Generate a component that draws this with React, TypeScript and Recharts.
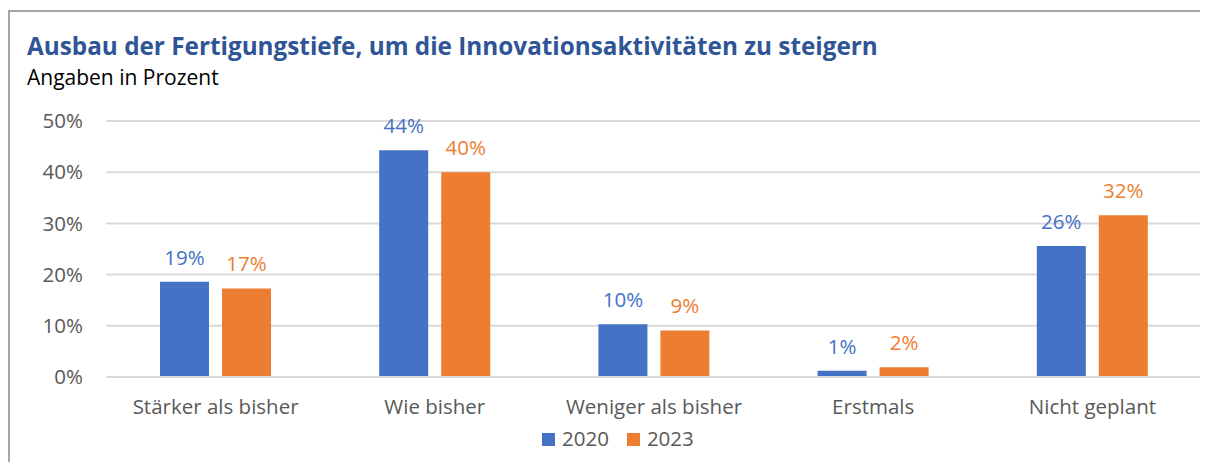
import { BarChart, Bar, XAxis, YAxis, CartesianGrid, Legend, LabelList } from "recharts";

const categories = ["Stärker als bisher", "Wie bisher", "Weniger als bisher", "Erstmals", "Nicht geplant"];
const values2020 = [18.6, 44.3, 10.3, 1.2, 25.6];
const values2023 = [17.3, 40.0, 9.1, 1.9, 31.6];
const yTicks = [0, 10, 20, 30, 40, 50];

const BLUE = "#4472C4";
const ORANGE = "#ED7D31";
const FONT = "'Open Sans', sans-serif";
const FS = 20.5;

const data = categories.map((name, i) => ({
  name,
  y2020: values2020[i],
  y2023: values2023[i],
}));

const legendItems = [
  { label: "2020", color: BLUE },
  { label: "2023", color: ORANGE },
];

const renderLegend = () => (
  <div
    style={{
      display: "flex",
      justifyContent: "flex-start",
      paddingLeft: 534,
      gap: 18,
      fontFamily: FONT,
      fontSize: FS,
      lineHeight: "26px",
      height: 26,
      color: "#595959",
    }}
  >
    {legendItems.map((item) => (
      <div key={item.label} style={{ display: "flex", alignItems: "baseline", gap: 7 }}>
        <span style={{ width: 13, height: 13, background: item.color, display: "inline-block" }} />
        <span>{item.label}</span>
      </div>
    ))}
  </div>
);

export default function App() {
  return (
    <div
      style={{
        position: "relative",
        width: 1192,
        height: 452,
        marginTop: 2,
        overflow: "hidden",
        fontFamily: FONT,
        borderTop: "2px solid #a6a6a6",
        borderLeft: "2px solid #a6a6a6",
        boxSizing: "border-box",
      }}
    >
      <div
        style={{
          position: "absolute",
          left: 17,
          top: 19,
          fontSize: 24.3,
          fontWeight: 700,
          color: "#2F5597",
          whiteSpace: "nowrap",
          lineHeight: "30px",
        }}
      >
        Ausbau der Fertigungstiefe, um die Innovationsaktivitäten zu steigern
      </div>
      <div
        style={{
          position: "absolute",
          left: 17,
          top: 52,
          fontSize: 21,
          color: "#000",
          whiteSpace: "nowrap",
          lineHeight: "26px",
        }}
      >
        Angaben in Prozent
      </div>
      <div style={{ position: "absolute", left: -2, top: -4 }}>
        <BarChart
          width={1194}
          height={454}
          data={data}
          margin={{ top: 113, right: 0, bottom: 29, left: 0 }}
          barGap={13}
          barCategoryGap={54}
        >
          <CartesianGrid vertical={false} stroke="#d9d9d9" strokeWidth={2} />
          <XAxis
            dataKey="name"
            axisLine={{ stroke: "#d9d9d9", strokeWidth: 2 }}
            tickLine={false}
            tickMargin={16}
            height={30}
            tick={{ fill: "#595959", fontSize: FS, fontFamily: FONT }}
            interval={0}
          />
          <YAxis
            width={98}
            domain={[0, 50]}
            ticks={yTicks}
            tickFormatter={(v: number) => `${v}%`}
            axisLine={false}
            tickLine={false}
            tickMargin={17}
            tick={{ fill: "#595959", fontSize: FS, fontFamily: FONT }}
          />
          <Legend
            verticalAlign="bottom"
            content={renderLegend}
            wrapperStyle={{ top: 417, left: 0, width: 1194 }}
          />
          <Bar dataKey="y2020" name="2020" fill={BLUE} isAnimationActive={false}>
            <LabelList
              dataKey="y2020"
              position="top"
              offset={17}
              formatter={(v: number) => `${Math.round(v)}%`}
              style={{ fill: BLUE, fontSize: FS, fontFamily: FONT }}
            />
          </Bar>
          <Bar dataKey="y2023" name="2023" fill={ORANGE} isAnimationActive={false}>
            <LabelList
              dataKey="y2023"
              position="top"
              offset={17}
              formatter={(v: number) => `${Math.round(v)}%`}
              style={{ fill: ORANGE, fontSize: FS, fontFamily: FONT }}
            />
          </Bar>
        </BarChart>
      </div>
    </div>
  );
}
